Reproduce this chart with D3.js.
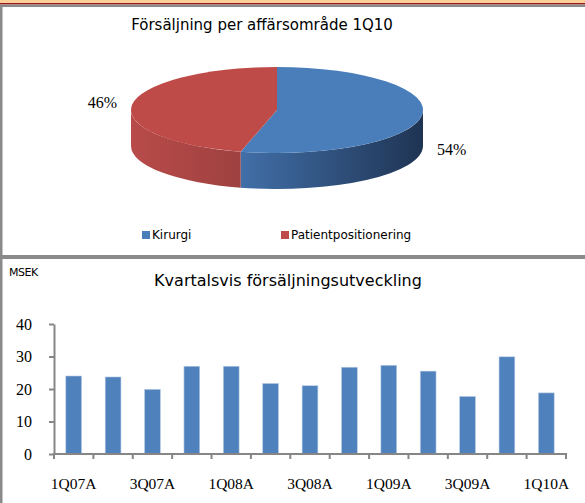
<!DOCTYPE html>
<html>
<head>
<meta charset="utf-8">
<script src="https://cdn.jsdelivr.net/npm/d3@7"></script>
<style>
  body { margin: 0; background: #fff; }
  svg { display: block; }
</style>
</head>
<body>
<div id="chart"></div>
<script>
const width = 585;
const height = 503;

// pie data (1Q10)
const segments = ["Kirurgi", "Patientpositionering"];
const shares = [54, 46];
const segmentColors = ["#4a7ebb", "#be4b48"];

// bar data
const quarters = ["1Q07A", "2Q07A", "3Q07A", "4Q07A", "1Q08A", "2Q08A", "3Q08A",
    "4Q08A", "1Q09A", "2Q09A", "3Q09A", "4Q09A", "1Q10A"];
const sales = [24.0, 23.7, 19.9, 27.0, 27.0, 21.7, 21.0, 26.7, 27.3, 25.5, 17.7, 29.9, 18.8];
const yTicks = [0, 10, 20, 30, 40];
const xLabels = ["1Q07A", "3Q07A", "1Q08A", "3Q08A", "1Q09A", "3Q09A", "1Q10A"];

const sans = "'DejaVu Sans', sans-serif";
const serif = "'Liberation Serif', 'Times New Roman', serif";

const svg = d3.select("#chart")
    .append("svg")
    .attr("width", width)
    .attr("height", height);

// frame
svg.append("rect").attr("x", 0).attr("y", 0).attr("width", width).attr("height", 3).attr("fill", "#fbcf9a");
svg.append("rect").attr("x", 0).attr("y", 3).attr("width", width).attr("height", 1.5).attr("fill", "#9e1818");
svg.append("rect").attr("x", 0).attr("y", 4.5).attr("width", width).attr("height", 2.5).attr("fill", "#8a8a8a");
svg.append("rect").attr("x", 0).attr("y", 7).attr("width", 2.5).attr("height", height - 7).attr("fill", "#8a8a8a");
svg.append("rect").attr("x", 0).attr("y", 255).attr("width", width).attr("height", 4).attr("fill", "#8a8a8a");

// ---------- 3D pie ----------
svg.append("text")
    .attr("x", 262).attr("y", 25)
    .attr("text-anchor", "middle").attr("dominant-baseline", "middle")
    .style("font-family", sans).style("font-size", "15px")
    .text("Försäljning per affärsområde 1Q10");

const cx = 277, cy = 110, rx = 146, ry = 43, depth = 36;

const arcs = d3.pie().sort(null)(shares);
const pt = (a, dy = 0) => [cx + rx * Math.sin(a), cy - ry * Math.cos(a) + dy];

const defs = svg.append("defs");
const sideStops = [
    [["0%", "#416fa8"], ["100%", "#1f3453"]],
    [["0%", "#b84b49"], ["100%", "#9e4140"]]
];
sideStops.forEach((stops, i) => {
    const g = defs.append("linearGradient").attr("id", "side" + i)
        .attr("x1", "0%").attr("x2", "100%").attr("y1", "0%").attr("y2", "0%");
    stops.forEach(s => g.append("stop").attr("offset", s[0]).attr("stop-color", s[1]));
});

const pieG = svg.append("g");

// side walls (front half only: angles between PI/2 and 3PI/2)
arcs.forEach((d, i) => {
    const a0 = Math.max(d.startAngle, Math.PI / 2);
    const a1 = Math.min(d.endAngle, 3 * Math.PI / 2);
    if (a1 <= a0) return;
    const p0 = pt(a0), p1 = pt(a1), q1 = pt(a1, depth), q0 = pt(a0, depth);
    pieG.append("path")
        .attr("d", `M${p0}A${rx},${ry} 0 0 1 ${p1}L${q1}A${rx},${ry} 0 0 0 ${q0}Z`)
        .attr("fill", `url(#side${i})`);
});

// top faces
arcs.forEach((d, i) => {
    const p0 = pt(d.startAngle), p1 = pt(d.endAngle);
    const large = d.endAngle - d.startAngle > Math.PI ? 1 : 0;
    pieG.append("path")
        .attr("d", `M${cx},${cy}L${p0}A${rx},${ry} 0 ${large} 1 ${p1}Z`)
        .attr("fill", segmentColors[i]);
});

// percentage labels
arcs.forEach(d => {
    const mid = (d.startAngle + d.endAngle) / 2;
    const front = Math.cos(mid) < 0;
    pieG.append("text")
        .attr("x", cx + (rx + 30) * Math.sin(mid))
        .attr("y", cy - ry * Math.cos(mid) + (front ? depth : 0))
        .attr("text-anchor", "middle").attr("dominant-baseline", "middle")
        .style("font-family", serif).style("font-size", "16px")
        .text(d.data + "%");
});

// legend
const legendX = [142, 281];
segments.forEach((s, i) => {
    svg.append("rect")
        .attr("x", legendX[i]).attr("y", 231).attr("width", 8).attr("height", 8)
        .attr("fill", segmentColors[i]);
    svg.append("text")
        .attr("x", legendX[i] + 10).attr("y", 235.5)
        .attr("dominant-baseline", "middle")
        .style("font-family", sans).style("font-size", "12px")
        .text(s);
});

// ---------- bar chart ----------
svg.append("text")
    .attr("x", 9).attr("y", 273)
    .attr("dominant-baseline", "middle")
    .style("font-family", sans).style("font-size", "11px")
    .style("letter-spacing", "-0.5px")
    .text("MSEK");

svg.append("text")
    .attr("x", 288).attr("y", 281)
    .attr("text-anchor", "middle").attr("dominant-baseline", "middle")
    .style("font-family", sans).style("font-size", "16px")
    .text("Kvartalsvis försäljningsutveckling");

const x = d3.scaleBand()
    .domain(quarters)
    .range([54, 566])
    .paddingInner(0.6)
    .paddingOuter(0.3);

const y = d3.scaleLinear()
    .domain([0, 40])
    .range([454, 324]);

svg.append("g")
    .selectAll("rect")
    .data(sales)
    .enter()
    .append("rect")
    .attr("x", (d, i) => x(quarters[i]))
    .attr("y", d => y(d))
    .attr("width", x.bandwidth())
    .attr("height", d => y(0) - y(d))
    .attr("fill", "#4f81bd")
    .attr("stroke", "#b7cbe4")
    .attr("stroke-width", 0.6);

const axisColor = "#868686";

const yAxis = svg.append("g")
    .attr("transform", `translate(54,0)`)
    .call(d3.axisLeft(y).tickValues(yTicks).tickSize(5).tickPadding(17).tickSizeOuter(0));
yAxis.select(".domain").attr("stroke", axisColor).attr("stroke-width", 2);
yAxis.selectAll(".tick line").attr("stroke", axisColor).attr("stroke-width", 2);
yAxis.selectAll(".tick text")
    .style("font-family", serif).style("font-size", "16px").attr("fill", "#000");

// x axis: line, ticks at band boundaries, labels every other quarter
const step = x.step();
const x0 = x.range()[0];
const bounds = d3.range(quarters.length + 1).map(i => x0 + i * step);

svg.append("line")
    .attr("x1", x0 - 1).attr("x2", x.range()[1] + 1)
    .attr("y1", y(0)).attr("y2", y(0))
    .attr("stroke", axisColor).attr("stroke-width", 2);

svg.append("g")
    .selectAll("line")
    .data(bounds)
    .enter()
    .append("line")
    .attr("x1", d => d).attr("x2", d => d)
    .attr("y1", y(0)).attr("y2", y(0) + 5)
    .attr("stroke", axisColor).attr("stroke-width", 2);

svg.append("g")
    .selectAll("text")
    .data(xLabels)
    .enter()
    .append("text")
    .attr("x", d => x(d) + x.bandwidth() / 2)
    .attr("y", 485)
    .attr("text-anchor", "middle").attr("dominant-baseline", "middle")
    .style("font-family", serif).style("font-size", "15.5px")
    .text(d => d);
</script>
</body>
</html>
